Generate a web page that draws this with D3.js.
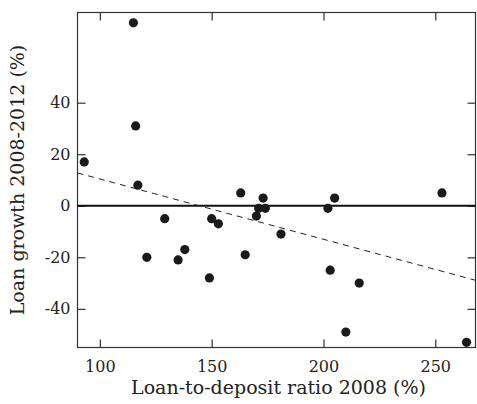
<!DOCTYPE html>
<html>
<head>
<meta charset="utf-8">
<script src="https://cdn.jsdelivr.net/npm/d3@7"></script>
<style>
  body { margin: 0; background: #fff; }
  text { font-family: "DejaVu Serif", "Liberation Serif", serif; fill: #222; }
</style>
</head>
<body>
<div id="chart"></div>
<script>
// data
var ratio2008 = [115, 116, 93, 117, 129, 121, 135, 138, 149, 150, 153, 163, 173, 171, 174, 170, 181, 165, 202, 205, 203, 216, 210, 253, 264];
var growth0812 = [71, 31, 17, 8, -5, -20, -21, -17, -28, -5, -7, 5, 3, -1, -1, -4, -11, -19, -1, 3, -25, -30, -49, 5, -53];
var xTicks = [100, 150, 200, 250];
var yTicks = [-40, -20, 0, 20, 40];
// fitted line (intercept, slope) as drawn
var fitLine = [33.8, -0.234];

var svgWidth = 477;
var svgHeight = 404;
var margin = { top: 12.5, right: 1.5, bottom: 56.5, left: 77.5 };
var width = svgWidth - margin.left - margin.right;
var height = svgHeight - margin.top - margin.bottom;

var svg = d3.select("#chart").append("svg")
  .attr("width", svgWidth)
  .attr("height", svgHeight);

var chartGroup = svg.append("g")
  .attr("transform", `translate(${margin.left}, ${margin.top})`);

var xScale = d3.scaleLinear().domain([90, 268]).range([0, width]);
var yScale = d3.scaleLinear().domain([-55, 75]).range([height, 0]);

var tickLen = 8;

// frame
chartGroup.append("rect")
  .attr("width", width)
  .attr("height", height)
  .attr("fill", "none")
  .attr("stroke", "#333")
  .attr("stroke-width", 1.2);

// axes with inward ticks
var xAxis = chartGroup.append("g")
  .attr("transform", "translate(0," + height + ")")
  .call(d3.axisBottom(xScale).tickValues(xTicks).tickSizeInner(-tickLen).tickSizeOuter(0).tickPadding(tickLen + 5));
chartGroup.append("g")
  .call(d3.axisTop(xScale).tickValues(xTicks).tickSizeInner(-tickLen).tickSizeOuter(0).tickFormat(""));
var yAxis = chartGroup.append("g")
  .call(d3.axisLeft(yScale).tickValues(yTicks).tickSizeInner(-tickLen).tickSizeOuter(0).tickPadding(7)
    .tickFormat(function(d) { return d < 0 ? "-" + Math.abs(d) : d; }));
chartGroup.append("g")
  .attr("transform", "translate(" + width + ",0)")
  .call(d3.axisRight(yScale).tickValues(yTicks).tickSizeInner(-tickLen).tickSizeOuter(0).tickFormat(""));

chartGroup.selectAll(".domain").remove();
chartGroup.selectAll(".tick line").attr("stroke", "#333").attr("stroke-width", 1.2);
chartGroup.selectAll(".tick text")
  .attr("font-family", "DejaVu Serif")
  .attr("font-size", 16)
  .attr("fill", "#222");
xAxis.selectAll(".tick text").attr("dy", "0.71em");

// zero line
chartGroup.append("line")
  .attr("x1", 0).attr("x2", width)
  .attr("y1", yScale(0)).attr("y2", yScale(0))
  .attr("stroke", "#111")
  .attr("stroke-width", 1.8);

// dashed fit
var x0 = xScale.domain()[0], x1 = xScale.domain()[1];
chartGroup.append("line")
  .attr("x1", xScale(x0)).attr("y1", yScale(fitLine[0] + fitLine[1] * x0))
  .attr("x2", xScale(x1)).attr("y2", yScale(fitLine[0] + fitLine[1] * x1))
  .attr("stroke", "#222")
  .attr("stroke-width", 1)
  .attr("stroke-dasharray", "6,5");

// points
chartGroup.selectAll("circle.dot")
  .data(ratio2008)
  .enter()
  .append("circle")
  .attr("class", "dot")
  .attr("cx", function(d) { return xScale(d); })
  .attr("cy", function(d, i) { return yScale(growth0812[i]); })
  .attr("r", 4.6)
  .attr("fill", "#1a1a1a");

// axis titles
svg.append("text")
  .attr("x", margin.left + width / 2 + 2)
  .attr("y", 394)
  .attr("text-anchor", "middle")
  .attr("font-size", 19)
  .text("Loan-to-deposit ratio 2008 (%)");

svg.append("text")
  .attr("transform", "translate(24," + (margin.top + height / 2) + ") rotate(-90)")
  .attr("text-anchor", "middle")
  .attr("font-size", 19)
  .text("Loan growth 2008-2012 (%)");
</script>
</body>
</html>
